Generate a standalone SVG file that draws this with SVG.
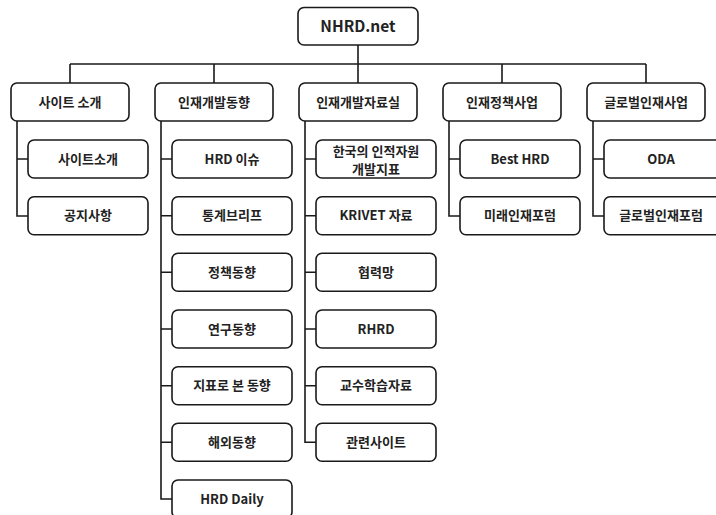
<svg xmlns="http://www.w3.org/2000/svg" width="716" height="515" viewBox="0 0 716 515">
<style>
.b{fill:#fff;stroke:#1a1a1a;stroke-width:1.6}
.c{fill:none;stroke:#1a1a1a;stroke-width:1.6}
text{font-family:"Noto Sans CJK KR","Noto Sans",sans-serif;font-weight:bold;font-size:13px;fill:#222;text-anchor:middle}
.t{font-size:15.5px}
</style>
<rect width="716" height="515" fill="#fff"/>
<g id="connectors" class="c">
<path d="M358 45V64M70 64H646M70 64V83M214 64V83M358 64V83M502 64V83M646 64V83"/>
<path d="M17 121V216H28M17 159H28"/>
<path d="M161 121V499H172M161 159H172M161 215.7H172M161 272.3H172M161 329H172M161 385.7H172M161 442.3H172"/>
<path d="M305 121V442.3H316M305 159H316M305 215.7H316M305 272.3H316M305 329H316M305 385.7H316"/>
<path d="M449 121V216H460M449 159H460"/>
<path d="M593 121V216H604M593 159H604"/>
</g>
<g id="root"><rect class="b" x="298" y="7.5" width="120" height="37.5" rx="6"/><text class="t" x="358" y="32">NHRD.net</text></g>
<g id="n1"><rect class="b" x="11" y="83" width="118" height="38" rx="6"/><text x="70" y="106.5">사이트 소개</text></g>
<g id="n2"><rect class="b" x="155" y="83" width="118" height="38" rx="6"/><text x="214" y="106.5">인재개발동향</text></g>
<g id="n3"><rect class="b" x="299" y="83" width="118" height="38" rx="6"/><text x="358" y="106.5">인재개발자료실</text></g>
<g id="n4"><rect class="b" x="443" y="83" width="118" height="38" rx="6"/><text x="502" y="106.5">인재정책사업</text></g>
<g id="n5"><rect class="b" x="587" y="83" width="118" height="38" rx="6"/><text x="646" y="106.5">글로벌인재사업</text></g>
<g id="n1a"><rect class="b" x="28" y="140" width="120" height="38" rx="6"/><text x="88" y="163.5">사이트소개</text></g>
<g id="n1b"><rect class="b" x="28" y="196.7" width="120" height="38" rx="6"/><text x="88" y="220.2">공지사항</text></g>
<g id="n2a"><rect class="b" x="172" y="140" width="120" height="38" rx="6"/><text x="232" y="163.5">HRD 이슈</text></g>
<g id="n2b"><rect class="b" x="172" y="196.7" width="120" height="38" rx="6"/><text x="232" y="220.2">통계브리프</text></g>
<g id="n2c"><rect class="b" x="172" y="253.3" width="120" height="38" rx="6"/><text x="232" y="276.8">정책동향</text></g>
<g id="n2d"><rect class="b" x="172" y="310" width="120" height="38" rx="6"/><text x="232" y="333.5">연구동향</text></g>
<g id="n2e"><rect class="b" x="172" y="366.7" width="120" height="38" rx="6"/><text x="232" y="390.2">지표로 본 동향</text></g>
<g id="n2f"><rect class="b" x="172" y="423.3" width="120" height="38" rx="6"/><text x="232" y="446.8">해외동향</text></g>
<g id="n2g"><rect class="b" x="172" y="480" width="120" height="38" rx="6"/><text x="232" y="503.5">HRD Daily</text></g>
<g id="n3a"><rect class="b" x="316" y="140" width="120" height="38" rx="6"/><text x="376" y="155.5">한국의 인적자원</text><text x="376" y="174">개발지표</text></g>
<g id="n3b"><rect class="b" x="316" y="196.7" width="120" height="38" rx="6"/><text x="376" y="220.2">KRIVET 자료</text></g>
<g id="n3c"><rect class="b" x="316" y="253.3" width="120" height="38" rx="6"/><text x="376" y="276.8">협력망</text></g>
<g id="n3d"><rect class="b" x="316" y="310" width="120" height="38" rx="6"/><text x="376" y="333.5">RHRD</text></g>
<g id="n3e"><rect class="b" x="316" y="366.7" width="120" height="38" rx="6"/><text x="376" y="390.2">교수학습자료</text></g>
<g id="n3f"><rect class="b" x="316" y="423.3" width="120" height="38" rx="6"/><text x="376" y="446.8">관련사이트</text></g>
<g id="n4a"><rect class="b" x="460" y="140" width="120" height="38" rx="6"/><text x="520" y="163.5">Best HRD</text></g>
<g id="n4b"><rect class="b" x="460" y="196.7" width="120" height="38" rx="6"/><text x="520" y="220.2">미래인재포럼</text></g>
<g id="n5a"><rect class="b" x="604" y="140" width="120" height="38" rx="6"/><text x="661" y="163.5">ODA</text></g>
<g id="n5b"><rect class="b" x="604" y="196.7" width="120" height="38" rx="6"/><text x="661" y="220.2">글로벌인재포럼</text></g>
</svg>
